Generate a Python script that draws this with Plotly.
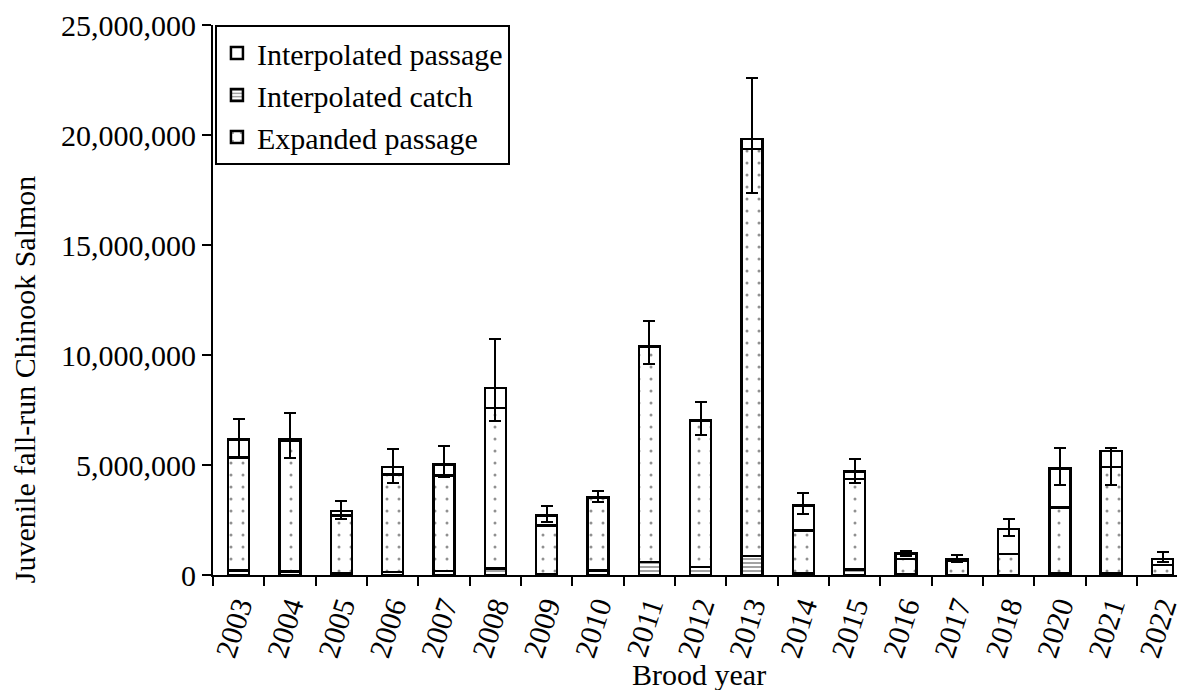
import plotly.graph_objects as go

# brood years (2019 missing)
years = ["2003", "2004", "2005", "2006", "2007", "2008", "2009", "2010", "2011", "2012",
         "2013", "2014", "2015", "2016", "2017", "2018", "2020", "2021", "2022"]

interpolated_catch = [200000, 150000, 70000, 130000, 180000, 300000, 50000, 200000, 600000, 375000,
                      870000, 100000, 250000, 20000, 10000, 10000, 70000, 100000, 5000]

expanded_passage = [5150000, 5940000, 2630000, 4440000, 4340000, 7280000, 2210000, 3290000, 9770000, 6645000,
                    18490000, 1930000, 4120000, 703000, 637000, 940000, 3000000, 4800000, 461000]

interpolated_passage = [810000, 60000, 210000, 330000, 510000, 930000, 450000, 50000, 30000, 30000,
                        450000, 1130000, 330000, 257000, 63000, 1130000, 1780000, 740000, 271000]

# confidence interval of total passage
ci_lower = [5320000, 5320000, 2550000, 4170000, 4440000, 7010000, 2410000, 3310000, 9570000, 6360000,
            17370000, 2760000, 4170000, 873000, 600000, 1760000, 4100000, 4100000, 600000]
ci_upper = [7070000, 7370000, 3350000, 5740000, 5880000, 10710000, 3130000, 3840000, 11530000, 7870000,
            22600000, 3720000, 5290000, 1100000, 904000, 2530000, 5790000, 5790000, 1030000]

totals = [c + e + p for c, e, p in zip(interpolated_catch, expanded_passage, interpolated_passage)]
err_plus = [u - t for u, t in zip(ci_upper, totals)]
err_minus = [t - l for t, l in zip(totals, ci_lower)]

FONT = "'Liberation Serif', 'Times New Roman', serif"
outline = dict(color="black", width=2.5)

fig = go.Figure()

fig.add_trace(go.Bar(
    name="Interpolated catch", x=years, y=interpolated_catch,
    marker=dict(color="white", line=outline,
                pattern=dict(shape="-", fgcolor="#333333", bgcolor="white", size=4, solidity=0.45)),
    legendrank=2,
))
fig.add_trace(go.Bar(
    name="Expanded passage", x=years, y=expanded_passage,
    marker=dict(color="white", line=outline,
                pattern=dict(shape=".", fgcolor="#222222", bgcolor="white", size=12, solidity=0.05)),
    legendrank=3,
))
fig.add_trace(go.Bar(
    name="Interpolated passage", x=years, y=interpolated_passage,
    marker=dict(color="white", line=outline),
    error_y=dict(type="data", symmetric=False, array=err_plus, arrayminus=err_minus,
                 color="black", thickness=2, width=6),
    legendrank=1,
))

# page body adds an 8px margin, so the figure is 8px smaller than the window
fig.update_layout(
    width=1177, height=682,
    barmode="stack", bargap=0.59,
    plot_bgcolor="white", paper_bgcolor="white",
    margin=dict(l=205, r=0, t=14, b=115),
    font=dict(family=FONT, size=30, color="black"),
    showlegend=True,
    legend=dict(x=0.002, y=1, xanchor="left", yanchor="top", traceorder="normal",
                bgcolor="white", bordercolor="black", borderwidth=2,
                font=dict(family=FONT, size=30), tracegroupgap=0),
    xaxis=dict(
        type="category", range=[-0.5, 18.437],
        showline=True, linecolor="black", linewidth=2,
        ticks="outside", ticklen=9, tickwidth=2, tickcolor="black",
        tickson="boundaries", tickangle=-72, showgrid=False,
        tickfont=dict(family=FONT, size=30),
    ),
    yaxis=dict(
        range=[0, 25000000], dtick=5000000, tickformat=",d",
        showline=True, linecolor="black", linewidth=2,
        ticks="outside", ticklen=9, tickwidth=2, tickcolor="black",
        showgrid=False, zeroline=False, ticklabeloverflow="allow",
        tickfont=dict(family=FONT, size=30),
    ),
    annotations=[
        dict(text="Juvenile fall-run Chinook Salmon", textangle=-90,
             xref="paper", yref="paper", x=-0.1945, y=0.356,
             xanchor="center", yanchor="middle", showarrow=False,
             font=dict(family=FONT, size=30)),
        dict(text="Brood year",
             xref="paper", yref="paper", x=0.4995, y=-0.181,
             xanchor="center", yanchor="middle", showarrow=False,
             font=dict(family=FONT, size=30)),
    ],
)

fig.write_html("out.html")
